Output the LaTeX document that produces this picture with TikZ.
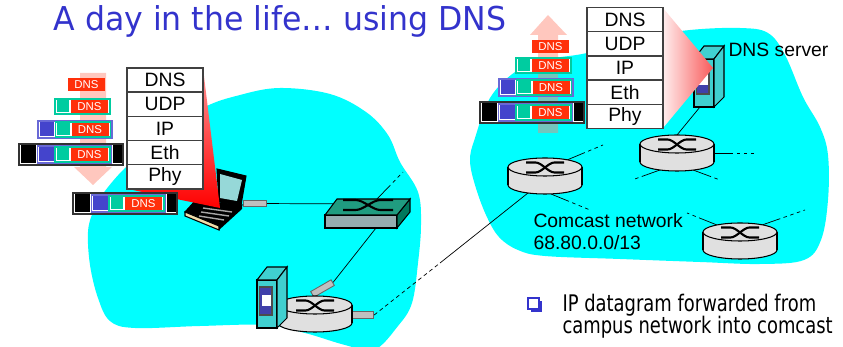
\documentclass[tikz,border=0pt]{standalone}
\usepackage{fontspec}
\setmainfont{Liberation Sans}
\newfontfamily\titlefont[FakeStretch=0.96]{DejaVu Sans}
\newfontfamily\notefont[FakeStretch=0.785]{DejaVu Sans}
\usetikzlibrary{positioning,backgrounds}
\definecolor{cloudcyan}{RGB}{0,255,255}
\definecolor{dnsred}{RGB}{255,48,10}
\definecolor{udpteal}{RGB}{0,204,160}
\definecolor{ipblue}{RGB}{68,68,204}
\definecolor{slotblue}{RGB}{64,64,170}
\definecolor{titleblue}{RGB}{51,51,204}
\definecolor{srvcyan}{RGB}{64,208,208}
\definecolor{swtop}{RGB}{32,156,128}
\definecolor{swside}{RGB}{0,120,92}
\definecolor{swfront}{RGB}{150,172,176}
\definecolor{rtgray}{RGB}{224,224,224}
\definecolor{arrowpink}{RGB}{255,130,110}
\definecolor{screencol}{RGB}{150,216,216}
\definecolor{cream}{RGB}{240,222,170}
\definecolor{redlight}{RGB}{255,150,150}
\definecolor{pinklight}{RGB}{255,238,238}
\definecolor{pinkdeep}{RGB}{248,90,90}

\begin{document}
\begin{tikzpicture}[x=0.02cm, y=-0.02cm, line width=0.6pt,
	layer/.style={draw=black!75, line width=0.8pt, fill=white, inner sep=0pt, outer sep=0pt, minimum width=1.52cm, minimum height=0.484cm, font=\fontsize{11}{13}\selectfont},
	pkttxt/.style={text=white, inner sep=0pt, font=\fontsize{6.5}{7}\selectfont},
	label/.style={anchor=base west, inner sep=0pt, font=\fontsize{11}{13}\selectfont},
	note/.style={anchor=base west, inner sep=0pt, font=\notefont\fontsize{13}{15}\selectfont},
	plug/.style={draw=black!60, fill=black!25, line width=0.5pt, inner sep=0pt, minimum width=0.47cm, minimum height=0.13cm},
	wan/.style={dash pattern=on 2.2pt off 1.8pt},
	stub/.style={dash pattern=on 11pt off 2pt on 2pt off 2pt on 2pt off 2pt on 2pt off 2pt on 2pt off 40pt},
	xline/.style={line width=1.2pt},
	pics/xsym/.style 2 args={code={
		\draw[xline] (-#1,-#2) -- (-#1/2,-#2) .. controls (-#1/6,-#2) and (#1/6,#2) .. (#1/2,#2) -- (#1,#2);
		\draw[xline] (-#1,#2) -- (-#1/2,#2) .. controls (-#1/6,#2) and (#1/6,-#2) .. (#1/2,-#2) -- (#1,-#2);}},
	pics/dnsmsg/.style={code={
		\fill[dnsred] (0,0) rectangle (37,13);
		\node[pkttxt] (-txt) at (18.5,6.8) {DNS};}},
	pics/udpseg/.style={code={
		\draw[udpteal, fill=white] (0,0) rectangle (55,15);
		\fill[udpteal] (1.5,1.5) rectangle (14,13.5);
		\pic (-m) at (16,1) {dnsmsg};}},
	pics/ipdgram/.style={code={
		\draw[ipblue!80, fill=white] (0,0) rectangle (74,17);
		\fill[ipblue] (1.5,1.5) rectangle (16,15.5);
		\pic (-s) at (17.5,1) {udpseg};}},
	pics/ethframe/.style={code={
		\draw[black!80, fill=white] (0,0) rectangle (104,21);
		\fill (1.5,1.5) rectangle (17,19.5);
		\pic (-d) at (18.5,2) {ipdgram};
		\fill (94,1.5) rectangle (102.5,19.5);}},
	pics/router/.style={code={
		\filldraw[fill=rtgray] (0,18) ellipse [x radius=37, y radius=9];
		\fill[rtgray] (-37,0) rectangle (37,18);
		\draw (-37,0) -- (-37,18) (37,0) -- (37,18);
		\filldraw[fill=rtgray] (0,0) ellipse [x radius=37, y radius=9];
		\pic at (0,0.5) {xsym={19}{5}};
		\coordinate (-n) at (0,-9);
		\coordinate (-ne) at (22,-7);
		\coordinate (-nw) at (-23,-7);
		\coordinate (-e) at (37,9);
		\coordinate (-s) at (6,27);
		\coordinate (-se) at (16,26);
		\coordinate (-sw) at (-17,26);}},
	pics/lanswitch/.style={code={
		\filldraw[fill=swfront] (-43,8) rectangle (29,21);
		\filldraw[fill=swside] (29,8) -- (42,-8) -- (42,5) -- (29,21) -- cycle;
		\filldraw[fill=swtop] (-31,-8) -- (42,-8) -- (29,8) -- (-43,8) -- cycle;
		\pic at (0,-2) {xsym={25}{5}};
		\coordinate (-in) at (0,-3);
		\coordinate (-out) at (8,21);
		\coordinate (-up) at (9,-8);}},
	pics/server/.style={code={
		\filldraw[fill=srvcyan] (0,0) rectangle (20,48);
		\filldraw[fill=srvcyan] (0,0) -- (10,-13) -- (30,-13) -- (20,0) -- cycle;
		\filldraw[fill=srvcyan] (20,0) -- (30,-13) -- (30,38) -- (20,48) -- cycle;
		\filldraw[fill=slotblue, draw=black!70] (2.5,7) rectangle (15,35);
		\fill[white] (4.5,15) rectangle (14,26);
		\coordinate (-b) at (6,48);}},
	pics/laptop/.style={code={
		\filldraw[fill=black] (-20,1) -- (27,5) -- (4,26) -- (-30,12) -- cycle;
		\filldraw[fill=cream] (-30,12) -- (4,26) -- (4,30) -- (-30,16) -- cycle;
		\fill (4,26) -- (27,5) -- (27,9) -- (4,30) -- cycle;
		\draw[gray!70, line width=0.8pt] (-12,8) -- (17,12) (-14,12) -- (14,16) (-16,16) -- (9,20);
		\filldraw[fill=black] (2,-31) -- (31,-24) -- (26,5) -- (4,2) -- cycle;
		\fill[screencol] (5,-26) -- (27,-20) -- (22,1) -- (5,-2) -- cycle;}}]

	\useasboundingbox (0,0) rectangle (843,347);

	% plugs on the cables
	\node[plug] (lapplug) at (255,203.5) {};
	\node[plug, rotate=30] (r0up) at (322.5,288.5) {};
	\node[plug] (r0rp) at (362,315) {};

	% routers, switch, hosts
	\pic (r0) at (315,305) {router};
	\pic (r1) at (545,167) {router};
	\pic (r2) at (677,144) {router};
	\pic (r3) at (740,232) {router};
	\pic (sw) at (368,207) {lanswitch};
	\pic (srv) at (257,280) {server};
	\pic (dns) at (694,59) {server};
	\pic (pc) at (215,200) {laptop};

	% loose cable ends
	\coordinate (gw) at (440,263);
	\coordinate (e1) at (403,172);
	\coordinate (e2) at (603,145);
	\coordinate (e3) at (590,210);
	\coordinate (e4) at (757,153);
	\coordinate (e5) at (632,180);
	\coordinate (e6) at (720,180);
	\coordinate (e7) at (687,213);
	\coordinate (e8) at (805,210);

	\begin{scope}[on background layer]
		% campus and comcast networks
		\fill[cloudcyan] plot[smooth cycle, tension=0.6] coordinates {(88,232) (93,212) (102,195) (125,168) (160,138) (203,108) (240,95) (280,88) (330,94) (366,112) (388,135) (400,162) (418,192) (421,225) (418,263) (412,303) (398,326) (374,350) (345,345) (305,333) (265,325) (200,326) (135,328) (110,321) (98,298) (90,265)};
		\fill[cloudcyan] plot[smooth cycle, tension=0.6] coordinates {(475,138) (490,98) (515,72) (543,60) (587,53) (640,38) (690,30) (740,28) (768,33) (785,55) (803,97) (820,127) (828,155) (828,200) (821,240) (804,260) (760,264) (700,262) (620,259) (545,256) (518,250) (499,237) (486,215) (475,185) (470,160)};
		% links
		\draw (lapplug) -- (sw-in);
		\draw (r0up.east) -- (sw-out);
		\draw[stub] (sw-up) -- (e1);
		\draw[wan] (r0rp.east) -- (gw);
		\draw (gw) -- (r1-sw);
		\draw[stub] (r1-ne) -- (e2);
		\draw[stub] (r1-s) -- (e3);
		\draw (dns-b) -- (r2-n);
		\draw[stub] (r2-e) -- (e4);
		\draw[stub] (r2-sw) -- (e5);
		\draw[stub] (r2-se) -- (e6);
		\draw[stub] (r3-nw) -- (e7);
		\draw[stub] (r3-ne) -- (e8);
	\end{scope}

	% protocol stack zoom wedges
	\shade[top color=redlight, bottom color=red] (203,68) -- (128,189) -- (220,208) -- cycle;
	\shade[left color=pinklight, right color=pinkdeep] (663,8) -- (663,128) -- (713,68) -- cycle;

	% client stack
	\node[layer] (cdns) at (165,80.1) {DNS};
	\node[layer, below=0pt of cdns] (cudp) {UDP};
	\node[layer, below=0pt of cudp] (cip) {IP};
	\node[layer, below=0pt of cip] (ceth) {Eth};
	\node[layer, below=0pt of ceth] (cphy) {Phy};

	% server stack
	\node[layer] (sdns) at (625,19.6) {DNS};
	\node[layer, below=0pt of sdns] (sudp) {UDP};
	\node[layer, below=0pt of sudp] (sip) {IP};
	\node[layer, below=0pt of sip] (seth) {Eth};
	\node[layer, below=0pt of seth] (sphy) {Phy};

	% encapsulation going down, decapsulation going up
	\fill[arrowpink, opacity=0.45] (80,73) -- (106,73) -- (106,167) -- (112,167) -- (93,185) -- (74,167) -- (80,167) -- cycle;
	\fill[arrowpink, opacity=0.45] (538,133) -- (558,133) -- (558,35) -- (567,35) -- (548,15) -- (530,35) -- (538,35) -- cycle;

	\pic (l1) at (68,78) {dnsmsg};
	\pic (l2) at (55,99) {udpseg};
	\pic (l3) at (38,121) {ipdgram};
	\pic (l4) at (19,144) {ethframe};
	\pic (l5) at (73,193) {ethframe};

	\pic (s1) at (532,40) {dnsmsg};
	\pic (s2) at (516,58) {udpseg};
	\pic (s3) at (499,79) {ipdgram};
	\pic (s4) at (480,102) {ethframe};

	% labels
	\node[label] (dnslabel) at (728,57) {DNS server};
	\node[label] (net) at (533,228) {Comcast network};
	\node[label] (netaddr) at (533,250) {68.80.0.0/13};

	\node[anchor=base west, inner sep=0pt, text=titleblue, font=\titlefont\fontsize{18.7}{22}\selectfont] (title) at (53,31) {A day in the life… using DNS};

	\fill[titleblue] (531,301) rectangle (542,312);
	\filldraw[draw=titleblue, fill=white] (528,298) rectangle (539,309);
	\node[note] (note1) at (562,312) {IP datagram forwarded from};
	\node[note] (note2) at (562,334) {campus network into comcast};
\end{tikzpicture}
\end{document}
